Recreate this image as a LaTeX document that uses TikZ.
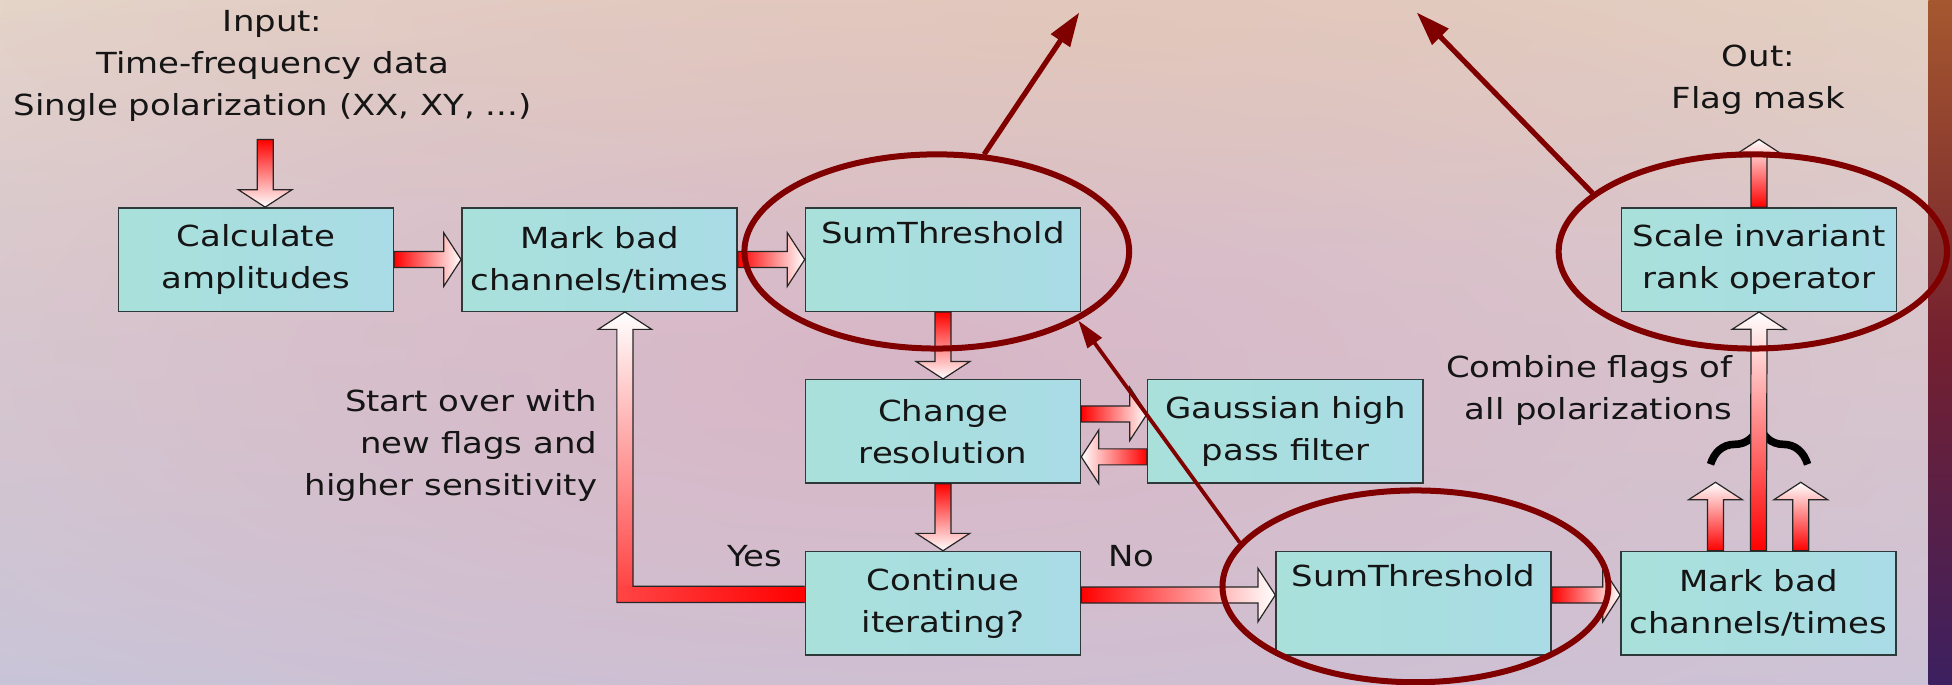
\documentclass[tikz,border=0pt]{standalone}
\usepackage{fontspec}
\setmainfont{DejaVu Sans}[FakeStretch=1.17]
\usetikzlibrary{calc,shapes.geometric,arrows.meta,decorations.pathreplacing,fadings,shadings}
\definecolor{boxL}{HTML}{A9E0DA}
\definecolor{boxR}{HTML}{A9DCE6}
\definecolor{boxline}{HTML}{2E3A3A}
\definecolor{darkmaroon}{HTML}{800000}
\definecolor{txt}{HTML}{151515}
\definecolor{bgUL}{HTML}{E6D6C9}
\definecolor{bgUR}{HTML}{E5D3C6}
\definecolor{bgLL}{HTML}{C6C7DB}
\definecolor{bgLR}{HTML}{CDC4D8}
\definecolor{bgpink}{HTML}{D8B4C6}
\definecolor{bgpeach}{HTML}{E2C4B4}
\definecolor{stripeT}{HTML}{A5582F}
\definecolor{stripeM}{HTML}{74202F}
\definecolor{stripeB}{HTML}{3C2060}
\definecolor{lightred}{HTML}{FF4545}
\tikzfading[name=softblob, inner color=transparent!0, outer color=transparent!100]

\tikzset{
  every node/.style={font=\fontsize{14.5}{21}\selectfont, text=txt},
  box/.style={rectangle, draw=boxline, line width=0.7pt, left color=boxL, right color=boxR,
    minimum width=137.6pt, minimum height=51.7pt, inner sep=0pt, align=center},
  lbl/.style={inner sep=0pt, align=center},
  arrowline/.style={draw=black!85, line width=0.6pt},
  toright/.style={left color=red, right color=white},
  toleft/.style={left color=white, right color=red},
  todown/.style={top color=red, bottom color=white},
  toup/.style={bottom color=red, top color=white},
  ell/.style={ellipse, draw=darkmaroon, line width=3pt, inner sep=0pt},
  marrow/.style={draw=darkmaroon, line width=2.6pt, -{Triangle[length=17pt,width=11pt]}},
  marrowthin/.style={draw=darkmaroon, line width=1.9pt, -{Triangle[length=14pt,width=8.5pt]}},
}

\newcommand\blockarrow[3][]{%
  \coordinate (ba-s) at (#2);
  \coordinate (ba-e) at (#3);
  \coordinate (ba-m) at ($(ba-e)!8.7pt!(ba-s)$);
  \shadedraw[arrowline,#1] ($(ba-s)!4pt!90:(ba-e)$) --
    ($(ba-m)!4pt!90:(ba-e)$) --
    ($(ba-m)!13.4pt!90:(ba-e)$) --
    (ba-e) --
    ($(ba-m)!13.4pt!-90:(ba-e)$) --
    ($(ba-m)!4pt!-90:(ba-e)$) --
    ($(ba-s)!4pt!-90:(ba-e)$) -- cycle;
}

\begin{document}
\begin{tikzpicture}[x=0.6225pt,y=0.6225pt]
\useasboundingbox (0,0) rectangle (1568,-550);
% background
\begin{scope}
\clip (0,0) rectangle (1568,-550);
\shade[upper left=bgUL, upper right=bgUR, lower left=bgLL, lower right=bgLR] (0,0) rectangle (1568,-550);
\fill[bgpink, path fading=softblob, opacity=0.9] (720,-300) ellipse (1100 and 420);
\fill[bgpeach, path fading=softblob, opacity=0.6] (900,-20) ellipse (900 and 180);
\shade[top color=stripeT, bottom color=stripeB, middle color=stripeM] (1549,0) rectangle (1568,-550);
\end{scope}

% boxes
\node[box] (calcamp) at (205.5,-208.5) {Calculate\\amplitudes};
\node[box] (markA) at (481.5,-208.5) {Mark bad\\channels/times};
\node[box] (sumA) at (757.5,-208.5) {SumThreshold\\\strut};
\node[box] (scale) at (1413,-208.5) {Scale invariant\\rank operator};
\node[box] (change) at (757.5,-346.5) {Change\\resolution};
\node[box] (gauss) at (1032.5,-346.5) {Gaussian high\\pass filter};
\node[box] (cont) at (757.5,-484.5) {Continue\\iterating?};
\node[box] (sumB) at (1135.5,-484.5) {SumThreshold\\\strut};
\node[box] (markB) at (1412.5,-484.5) {Mark bad\\channels/times};

% labels
\node[lbl] (input) at (219,-53) {Input:\\Time-frequency data\\Single polarization (XX, XY, ...)};
\node[lbl] (out) at (1412.5,-64) {Out:\\Flag mask};
\node[lbl, align=right, anchor=east] (startover) at (480,-358) {Start over with\\new flags and\\higher sensitivity};
\node[lbl] (yes) at (606,-447) {Yes};
\node[lbl] (no) at (909,-447) {No};
\node[lbl, align=right, anchor=east] (combine) at (1392,-313.5) {Combine flags of\\all polarizations};

\coordinate (inS) at (213,-112);
\coordinate (outT) at (1413,-112);

% block arrows
\blockarrow[todown]{inS}{inS |- calcamp.north}
\blockarrow[toright]{calcamp.east}{markA.west}
\blockarrow[toright]{markA.east}{sumA.west}
\blockarrow[todown]{sumA.south}{change.north}
\blockarrow[toright]{$(change.east)+(0,14)$}{$(gauss.west)+(0,14)$}
\blockarrow[toleft]{$(gauss.west)+(0,-20.5)$}{$(change.east)+(0,-20.5)$}
\blockarrow[todown]{change.south}{cont.north}
\blockarrow[toright]{$(cont.east)+(0,6.5)$}{$(sumB.west)+(0,6.5)$}
\blockarrow[toright]{$(sumB.east)+(0,6.5)$}{$(markB.west)+(0,6.5)$}

% brace
\draw[line width=3.8pt, decorate, decoration={brace, amplitude=20pt}] (1374,-373) -- (1452,-373);

\blockarrow[toup]{markB.north}{scale.south}
\blockarrow[toup]{$(markB.north)+(-34.5,0)$}{$(markB.north)+(-34.5,55)$}
\blockarrow[toup]{$(markB.north)+(34,0)$}{$(markB.north)+(34,55)$}
\blockarrow[toup]{scale.north}{outT}

% Yes loop arrow
\coordinate (yS) at ($(cont.west)+(0,7)$);
\coordinate (yT) at ($(markA.south)+(20.5,0)$);
\coordinate (yC) at (yS -| yT);
\shade[left color=lightred, right color=red] ($(yC)+(-6.5,-6.5)$) rectangle ($(yS)+(0,6.5)$);
\shade[bottom color=lightred, top color=white] ($(yC)+(-6.5,6.5)$) -- ($(yC)+(6.5,6.5)$) -- ($(yT)+(6.5,-14)$) -- ($(yT)+(21.5,-14)$) -- (yT) -- ($(yT)+(-21.5,-14)$) -- ($(yT)+(-6.5,-14)$) -- cycle;
\draw[arrowline] ($(yS)+(0,6.5)$) -- ($(yC)+(6.5,6.5)$) -- ($(yT)+(6.5,-14)$) -- ($(yT)+(21.5,-14)$) -- (yT) -- ($(yT)+(-21.5,-14)$) -- ($(yT)+(-6.5,-14)$) -- ($(yC)+(-6.5,-6.5)$) -- ($(yS)+(0,-6.5)$);

% ellipses
\node[ell, minimum width=192.4pt, minimum height=97.1pt] (e1) at (752.5,-202) {};
\node[ell, minimum width=193pt, minimum height=95.9pt] (e2) at (1137,-471) {};
\node[ell, minimum width=194.2pt, minimum height=97.1pt] (e3) at (1408,-202) {};
\coordinate (c1) at (867,-10);
\coordinate (c3) at (1138,-10);
\draw[marrow] (e1.64) -- (c1);
\draw[marrow] (e3.160) -- (c3);
\draw[marrowthin] (e2.166) -- (e1.334);
\end{tikzpicture}
\end{document}
